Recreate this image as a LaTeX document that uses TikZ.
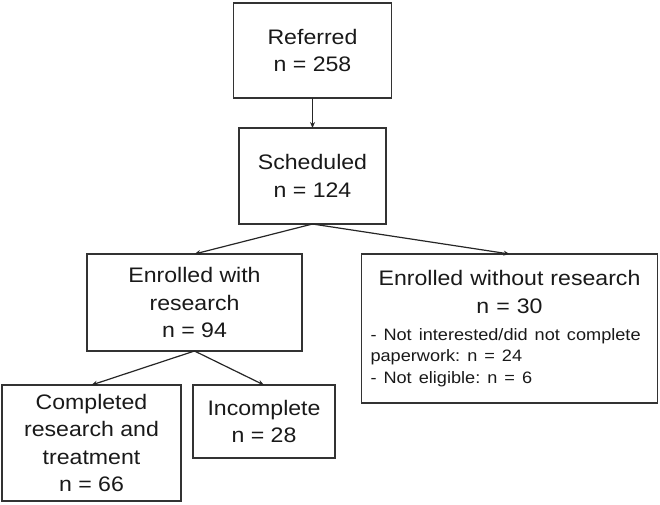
\documentclass[tikz,border=0pt]{standalone}
\usepackage{fontspec}
\setmainfont{Liberation Sans}[FakeStretch=1.1]
\usetikzlibrary{positioning,arrows.meta}
\tikzset{
	flowchart/.style={>={Stealth[length=6pt,width=5pt]},x=1pt,y=1pt,
		node distance=30pt,line width=1.2pt},
	stage/.style={rectangle,draw=black!80,line width=1.6pt,inner sep=0pt,outer sep=0pt,
		align=center,text=black!90,font=\fontsize{21}{27.5}\selectfont},
	arm/.style={->,black!85}
}

\begin{document}
\begin{tikzpicture}[flowchart]
	\useasboundingbox (0,0) rectangle (660,-504);
	
	\node[stage,minimum width=158pt,minimum height=95pt] (ref) at (312.5,-50.5) {Referred\\n = 258};
	\node[stage,minimum width=147pt,minimum height=96pt] (sched) [below=30pt of ref] {Scheduled\\n = 124};
	\node[stage,minimum width=215pt,minimum height=97pt] (withres) [below=30pt of sched,xshift=-118pt] {Enrolled with\\research\\n = 94};
	\node[stage,minimum width=296pt,minimum height=149pt,text width=278pt,align=left] (nores) [below=30pt of sched,xshift=197pt]
		{\fontsize{21}{27.5}\selectfont\parindent=0pt\frenchspacing\centering Enrolled without research\par n = 30\par\vspace{5.5pt}
		\raggedright\fontsize{16.5}{21.5}\selectfont - Not interested/did not complete\newline paperwork: n = 24\newline - Not eligible: n = 6\par};
	\node[stage,minimum width=179pt,minimum height=116pt] (done) [below=34pt of withres,xshift=-103pt] {Completed\\research and\\treatment\\n = 66};
	\node[stage,minimum width=142pt,minimum height=73pt] (partial) [below=34pt of withres,xshift=69.5pt] {Incomplete\\n = 28};
	
	\path[arm] (ref) edge (sched);
	\path[arm] (sched.south) edge (withres.north);
	\path[arm] (sched.south) edge (nores.north);
	\path[arm] (withres.south) edge (done.north);
	\path[arm] (withres.south) edge (partial.north);
\end{tikzpicture}
\end{document}
